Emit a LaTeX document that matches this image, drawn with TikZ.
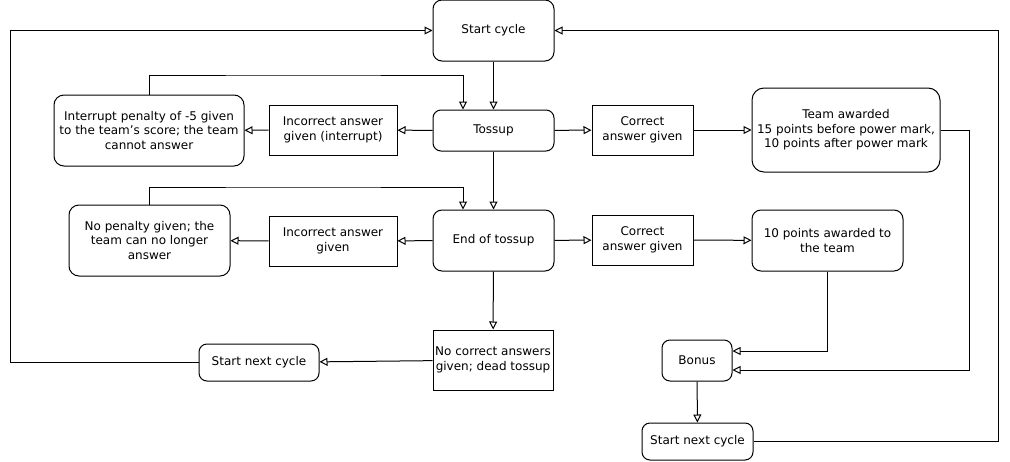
\documentclass[tikz,border=0pt]{standalone}
\usepackage{fontspec}
\setmainfont{DejaVu Sans}
\usetikzlibrary{arrows.meta}

\begin{document}
\begin{tikzpicture}[x=1pt, y=-1pt, line width=1pt,
    every node/.style={font=\fontsize{12}{14.5}\selectfont, align=center, inner sep=0pt},
    roundbox/.style={draw, rounded corners=8pt},
    plainbox/.style={draw},
    flow/.style={-{Triangle[open, length=8pt, width=8pt]}}]
    \useasboundingbox (0,0) rectangle (1010,461);

    % Main column
    \node[roundbox, rounded corners=9pt, minimum width=121pt, minimum height=61pt] (start) at (493.5,30.5) {Start cycle};
    \node[roundbox, minimum width=121pt, minimum height=41pt] (toss) at (493.5,130.5) {Tossup};
    \node[roundbox, rounded corners=9pt, minimum width=121pt, minimum height=61pt] (endtoss) at (493.5,240.5) {End of tossup};
    \node[plainbox, minimum width=120pt, minimum height=60pt] (dead) at (493,360) {No correct answers\\given; dead tossup};

    % Wrong answers (left)
    \node[plainbox, minimum width=128pt, minimum height=50pt] (wrongint) at (333,130) {Incorrect answer\\given (interrupt)};
    \node[roundbox, rounded corners=10pt, minimum width=190pt, minimum height=71pt] (penalty) at (149,130.5) {Interrupt penalty of -5 given\\to the team's score; the team\\cannot answer};
    \node[plainbox, minimum width=128pt, minimum height=50pt] (wrong) at (333,241) {Incorrect answer\\given};
    \node[roundbox, rounded corners=10pt, minimum width=161pt, minimum height=71pt] (nopen) at (149.5,240.5) {No penalty given; the\\team can no longer\\answer};
    \node[roundbox, minimum width=120pt, minimum height=37pt] (nextL) at (259,362.5) {Start next cycle};

    % Right answers (right)
    \node[plainbox, minimum width=101pt, minimum height=50pt] (right1) at (642.5,130) {Correct\\answer given};
    \node[roundbox, rounded corners=12pt, minimum width=188pt, minimum height=84pt] (power) at (846,130) {Team awarded\\15 points before power mark,\\10 points after power mark};
    \node[plainbox, minimum width=101pt, minimum height=50pt] (right2) at (642.5,240) {Correct\\answer given};
    \node[roundbox, rounded corners=9pt, minimum width=151pt, minimum height=61pt] (ten) at (827.5,240.5) {10 points awarded to\\the team};
    \node[roundbox, minimum width=70pt, minimum height=41pt] (bonus) at (697,360.5) {Bonus};
    \node[roundbox, minimum width=111pt, minimum height=37pt] (nextR) at (697.5,441.5) {Start next cycle};

    % Vertical flow
    \draw[flow] (start) -- (toss);
    \draw[flow] (toss) -- (endtoss);
    \draw[flow] (endtoss) -- (dead);
    \draw[flow] (bonus) -- (nextR);

    % Tossup row
    \draw[flow] (toss) -- (wrongint);
    \draw[flow] (wrongint) -- (penalty);
    \draw[flow] (toss) -- (right1);
    \draw[flow] (right1) -- (power);
    \draw[flow] (penalty.north) |- (300,75) -| ([xshift=-30.5pt]toss.north);

    % End of tossup row
    \draw[flow] (endtoss) -- (wrong);
    \draw[flow] (wrong) -- (nopen);
    \draw[flow] (endtoss) -- (right2);
    \draw[flow] (right2) -- (ten);
    \draw[flow] (nopen.north) |- (300,187) -| ([xshift=-30.5pt]endtoss.north);

    % To the bonus
    \draw[flow] (ten.south) |- ([yshift=9.5pt]bonus.east);
    \draw[flow] (power.east) -- (969,130) |- ([yshift=-9.5pt]bonus.east);

    % Back to the start
    \draw[flow] (dead) -- (nextL);
    \draw[flow] (nextL.west) -- (10,362.5) |- (start.west);
    \draw[flow] (nextR.east) -- (998.5,441.5) |- (start.east);

\end{tikzpicture}
\end{document}
